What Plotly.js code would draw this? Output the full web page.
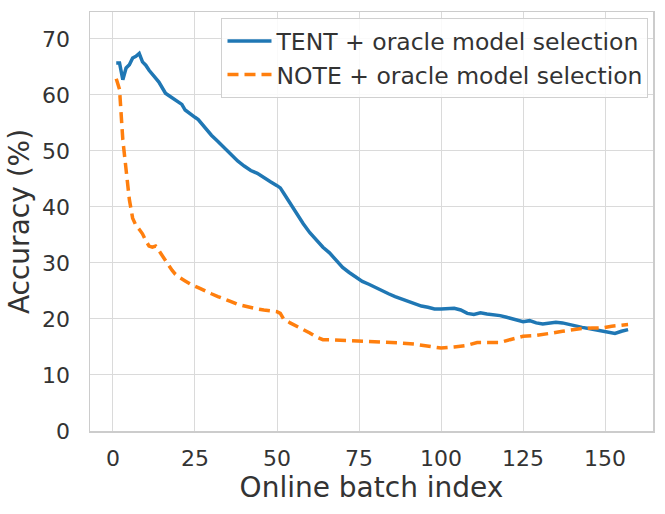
<!DOCTYPE html>
<html>
<head>
<meta charset="utf-8">
<script src="https://cdn.plot.ly/plotly-3.0.1.min.js"></script>
<style>
  html, body { margin: 0; padding: 0; background: #fff; }
  #chart { width: 665px; height: 514px; }
</style>
</head>
<body>
<div id="chart"></div>
<script>
// values
const tent_x = [1, 2, 3, 4, 5, 6, 7, 8, 9, 10, 11, 12, 13, 14, 15, 16, 17, 18, 19, 20,
	21, 22, 23, 24, 25, 26, 28, 30, 32, 34, 36, 38, 40, 42, 44, 46, 48, 50, 51, 52,
	54, 56, 58, 60, 62, 64, 66, 68, 70, 72, 74, 76, 78, 80, 82, 84, 86, 88, 90, 92,
	94, 96, 98, 100, 102, 104, 106, 108, 110, 112, 114, 116, 118, 120, 122, 124, 125, 127, 129, 131,
	133, 135, 137, 139, 141, 143, 145, 147, 149, 151, 153, 155, 157];
const tent_acc = [65.7, 65.7, 62.7, 64.8, 65.4, 66.6, 66.9, 67.4, 65.9, 65.3, 64.4, 63.6, 63.0, 62.3, 61.2, 60.3, 59.9, 59.5, 59.1, 58.7,
	58.3, 57.3, 56.8, 56.3, 56.0, 55.6, 54.2, 52.8, 51.7, 50.5, 49.2, 48.2, 47.3, 46.5, 46.0, 45.2, 44.5, 43.8, 43.4, 42.5,
	40.7, 38.7, 37.0, 35.4, 34.0, 32.8, 31.8, 30.4, 29.2, 28.3, 27.5, 26.7, 26.2, 25.6, 25.1, 24.5, 24.0, 23.6, 23.2, 22.8,
	22.3, 22.1, 21.8, 21.8, 21.9, 21.9, 21.6, 21.0, 20.8, 21.1, 20.9, 20.8, 20.6, 20.3, 20.0, 19.7, 19.5, 19.7, 19.3, 19.1,
	19.3, 19.4, 19.3, 19.0, 18.7, 18.5, 18.3, 18.1, 17.8, 17.6, 17.4, 17.8, 18.1];

const note_x = [1, 2, 3, 4, 5, 6, 7, 8, 9, 10, 11, 12, 13, 14, 15, 16, 17, 18, 19, 20,
	22, 24, 26, 28, 30, 32, 34, 36, 38, 40, 42, 44, 46, 48, 50, 51, 52, 54, 56, 58,
	60, 62, 64, 66, 70, 75, 80, 85, 88, 92, 96, 100, 104, 108, 111, 115, 118, 121, 125, 128,
	131, 134, 137, 140, 143, 146, 149, 152, 155, 157];
const note_acc = [62.9, 61.0, 52.0, 46.0, 41.3, 38.0, 36.7, 36.0, 35.2, 34.0, 33.0, 32.8, 33.0, 32.2, 31.3, 30.4, 29.6, 28.7, 28.0, 27.5,
	26.8, 26.1, 25.6, 25.0, 24.5, 24.0, 23.6, 23.1, 22.6, 22.3, 22.0, 21.8, 21.6, 21.5, 21.3, 21.0, 20.0, 19.3, 18.7, 18.2,
	17.5, 16.8, 16.3, 16.3, 16.2, 16.0, 16.0, 15.8, 15.7, 15.5, 15.1, 14.8, 15.0, 15.3, 15.8, 15.8, 15.8, 16.3, 16.9, 17.0,
	17.2, 17.5, 17.8, 18.1, 18.3, 18.4, 18.4, 18.7, 18.9, 19.0];

const series_names = ["TENT + oracle model selection", "NOTE + oracle model selection"];
const x_ticks = [0, 25, 50, 75, 100, 125, 150];
const y_ticks = [0, 10, 20, 30, 40, 50, 60, 70];

const FONT = "DejaVu Sans, sans-serif";
const TXT = "#333333";

const traces = [
	{
		x: tent_x, y: tent_acc, name: series_names[0],
		type: "scatter", mode: "lines",
		line: { color: "#1f77b4", width: 3.5 },
	},
	{
		x: note_x, y: note_acc, name: series_names[1],
		type: "scatter", mode: "lines",
		line: { color: "#ff7f0e", width: 3.5, dash: "11px,6px" },
	},
];

const axisCommon = {
	showgrid: true,
	gridcolor: "#dadada",
	gridwidth: 1,
	zeroline: false,
	showline: true,
	mirror: true,
	linecolor: "#cccccc",
	linewidth: 1.5,
	ticks: "",
	tickfont: { family: FONT, size: 22, color: TXT },
};

const layout = {
	width: 665,
	height: 514,
	margin: { l: 90, r: 12, t: 12, b: 83 },
	paper_bgcolor: "#fff",
	plot_bgcolor: "#fff",
	showlegend: true,
	font: { family: FONT, color: TXT },
	xaxis: Object.assign({}, axisCommon, {
		range: [-7, 164.6],
		tickvals: x_ticks,
		ticklabelstandoff: 7,
		title: { text: "Online batch index", font: { family: FONT, size: 28, color: TXT }, standoff: 4 },
	}),
	yaxis: Object.assign({}, axisCommon, {
		range: [0, 74.8],
		tickvals: y_ticks,
		ticklabelstandoff: 14,
		title: { text: "Accuracy (%)", font: { family: FONT, size: 28, color: TXT }, standoff: 4 },
	}),
	legend: {
		x: 0.992, y: 0.985, xanchor: "right", yanchor: "top",
		bgcolor: "rgba(255,255,255,0.85)",
		bordercolor: "#d0d0d0",
		borderwidth: 1,
		font: { family: FONT, size: 23.5, color: TXT },
		tracegroupgap: 0,
		itemwidth: 44,
	},
};

Plotly.newPlot("chart", traces, layout, { displayModeBar: false, staticPlot: true });
</script>
</body>
</html>
